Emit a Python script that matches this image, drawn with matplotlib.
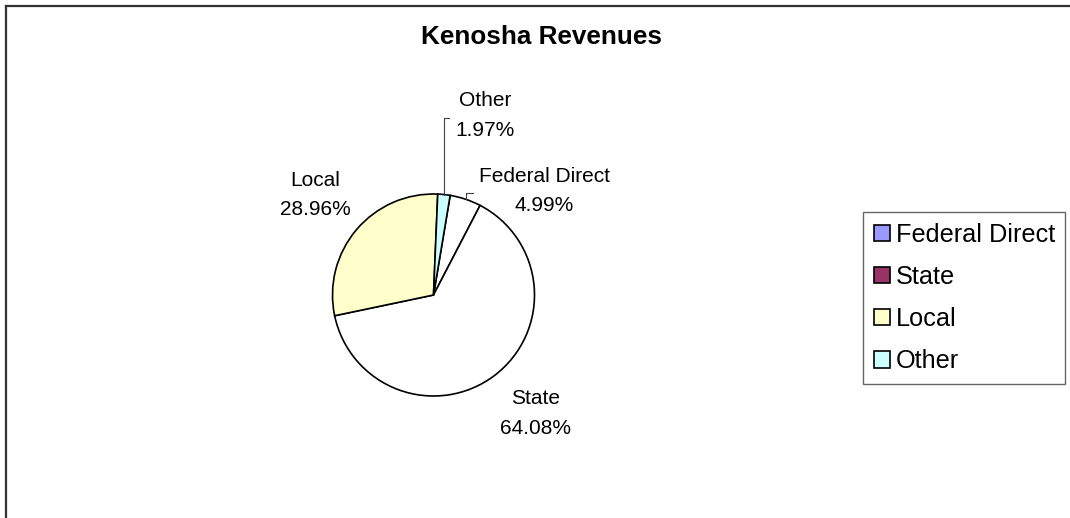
import matplotlib
matplotlib.use("Agg")
import matplotlib.pyplot as plt
from matplotlib.patches import Patch
from matplotlib.lines import Line2D
import numpy as np

# Revenue shares (percent)
categories = ["Federal Direct", "State", "Local", "Other"]
shares = [4.99, 64.08, 28.96, 1.97]

# Legend swatch colours and the fills used in the pie itself
legend_colors = ["#9999FF", "#993366", "#FFFFCC", "#CCFFFF"]
pie_colors = ["#FFFFFF", "#FFFFFF", "#FFFFCC", "#CCFFFF"]

W, H = 1070, 518
plt.rcParams["font.family"] = ["Liberation Sans", "DejaVu Sans"]
fig = plt.figure(figsize=(W / 100, H / 100), dpi=100)
fig.patch.set_facecolor("white")

# chart border (top and left edges visible)
border = "#333333"
fig.add_artist(Line2D([5.5 / W, 1.0], [1 - 6 / H, 1 - 6 / H], color=border, lw=1.6))
fig.add_artist(Line2D([5.5 / W, 5.5 / W], [0, 1 - 6 / H], color=border, lw=1.6))

fig.text(541.7 / W, 1 - 37.5 / H, "Kenosha Revenues", ha="center", va="center",
         fontsize=18.8, fontweight="bold")

# pie axes: centre (433.5, 295) px, radius 101 px
cx, cy, r = 433.5, 295.0, 101.0
ax = fig.add_axes([(cx - r) / W, (H - cy - r) / H, 2 * r / W, 2 * r / H])
wedges, _ = ax.pie(shares, colors=pie_colors, startangle=80.5, counterclock=False,
                   wedgeprops=dict(edgecolor="black", linewidth=1.2))
for w in wedges:
    w.set_clip_on(False)
ax.set_xlim(-1, 1)
ax.set_ylim(-1, 1)
ax.set_aspect("auto")
ax.axis("off")

# data labels (positions in pie-radius units)
label_pos = {"Federal Direct": (1.10, 1.03), "State": (1.01, -1.17),
             "Local": (-1.17, 0.99), "Other": (0.51, 1.78)}
for cat, val in zip(categories, shares):
    x, y = label_pos[cat]
    ax.text(x, y, f"{cat}\n{val:.2f}%", ha="center", va="center", fontsize=15,
            linespacing=1.72, clip_on=False)

# leader lines for the two narrow slices
def mid_point(w):
    a = np.deg2rad((w.theta1 + w.theta2) / 2)
    return np.cos(a), np.sin(a)

leader = dict(color="#404040", lw=0.8, clip_on=False)
ox, oy = mid_point(wedges[3])
ax.plot([ox, ox, ox + 0.05], [oy, 1.75, 1.75], **leader)
fx, fy = mid_point(wedges[0])
ax.plot([fx, fx, fx + 0.07], [fy, 1.01, 1.01], **leader)

handles = [Patch(facecolor=c, edgecolor="black", linewidth=1.2) for c in legend_colors]
leg = fig.legend(handles, categories, loc="upper left",
                 bbox_to_anchor=(863 / W, 1 - 212 / H), fontsize=18.2,
                 frameon=True, fancybox=False, shadow=False, borderpad=0.42,
                 handlelength=0.65, handleheight=0.62, handletextpad=0.22,
                 labelspacing=0.72, borderaxespad=0)
leg.get_frame().set_edgecolor("#404040")
leg.get_frame().set_linewidth(1.0)

fig.savefig("out.png", dpi=100, facecolor="white")
